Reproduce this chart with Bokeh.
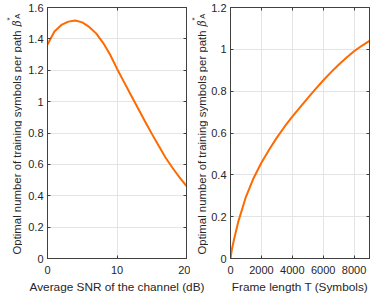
from math import pi
from bokeh.plotting import figure
from bokeh.layouts import row, column
from bokeh.models import Range1d, FixedTicker, LinearAxis, CustomJSTickFormatter
from bokeh.core.properties import value
from bokeh.embed import file_html
from bokeh.resources import INLINE

# ---- data ----
snr_db = [0, 1, 2, 3, 4, 5, 6, 7, 8, 9, 10, 11, 12, 13, 14, 15, 16, 17, 18, 19, 20]
beta_vs_snr = [1.364, 1.447, 1.489, 1.510, 1.517, 1.505, 1.476, 1.435, 1.375, 1.300,
               1.210, 1.126, 1.042, 0.959, 0.877, 0.796, 0.718, 0.642, 0.577, 0.517, 0.462]

frame_len = [0, 100, 250, 500, 1000, 1500, 2000, 2500, 3000, 3500, 4000, 4500,
             5000, 5500, 6000, 6500, 7000, 7500, 8000, 8500, 9000]
beta_vs_T = [0.0, 0.048, 0.098, 0.175, 0.295, 0.385, 0.458, 0.520, 0.578, 0.630,
             0.678, 0.723, 0.767, 0.810, 0.851, 0.890, 0.926, 0.960, 0.991, 1.017, 1.040]

left_xticks = [0, 10, 20]
left_xtick_labels = ["0", "10", "20"]
left_yticks = [0, 0.2, 0.4, 0.6, 0.8, 1.0, 1.2, 1.4, 1.6]
left_ytick_labels = ["0", "0.2", "0.4", "0.6", "0.8", "1", "1.2", "1.4", "1.6"]
right_xticks = [0, 2000, 4000, 6000, 8000]
right_xtick_labels = ["0", "2000", "4000", "6000", "8000"]
right_yticks = [0, 0.2, 0.4, 0.6, 0.8, 1.0, 1.2]
right_ytick_labels = ["0", "0.2", "0.4", "0.6", "0.8", "1", "1.2"]

xlabel_left = "Average SNR of the channel (dB)"
xlabel_right = "Frame length T (Symbols)"
ylabel_text = "Optimal number of training symbols per path"
ylabel_sym = "β"
ylabel_sup = "*"
ylabel_sub = "A"

LINE = "#FF6A00"
AX = "#404040"
TXT = "#262626"
GRID = "#e4e4e4"
FONT = "Liberation Sans"

TOP_H = 279          # height of the plots row
FRAME_W, FRAME_H = 139, 251
FRAME_TOP = 7
LAB1_W, P1_BL, P1_BR = 22, 25, 4
LAB2_W, P2_BL, P2_BR = 18, 22, 5


def style_axis(ax, labels=True):
    ax.axis_line_color = AX
    ax.major_tick_line_color = AX
    ax.major_tick_in = 3
    ax.major_tick_out = 0
    ax.minor_tick_line_color = None
    ax.major_label_text_font = FONT
    ax.major_label_text_color = TXT
    ax.major_label_text_font_size = "11px"
    if not labels:
        ax.formatter = CustomJSTickFormatter(code="return ''")
        ax.major_label_standoff = 0
        ax.major_label_text_font_size = "1px"


def make_fig(xr, yr, xticks, xlabels, yticks, ylabels, bl, br):
    p = figure(width=bl + FRAME_W + br, height=TOP_H, frame_width=FRAME_W,
               frame_height=FRAME_H, x_range=Range1d(*xr), y_range=Range1d(*yr),
               output_backend="svg", toolbar_location=None, tools="",
               min_border_left=bl, min_border_right=br, min_border_top=FRAME_TOP,
               min_border_bottom=TOP_H - FRAME_TOP - FRAME_H)
    p.background_fill_color = "white"
    p.border_fill_color = "white"
    p.outline_line_color = AX
    bottom_ax = p.below[0]
    left_ax = p.left[0]
    style_axis(bottom_ax)
    style_axis(left_ax)
    bottom_ax.ticker = FixedTicker(ticks=xticks)
    bottom_ax.major_label_overrides = {t: s for t, s in zip(xticks, xlabels)}
    left_ax.ticker = FixedTicker(ticks=yticks)
    left_ax.major_label_overrides = {t: s for t, s in zip(yticks, ylabels)}
    bottom_ax.major_label_standoff = 7
    left_ax.major_label_standoff = 4
    # mirrored tick axes (MATLAB box style), without labels
    top_ax = LinearAxis(ticker=FixedTicker(ticks=xticks))
    right_ax = LinearAxis(ticker=FixedTicker(ticks=yticks))
    style_axis(top_ax, labels=False)
    style_axis(right_ax, labels=False)
    p.add_layout(top_ax, "above")
    p.add_layout(right_ax, "right")
    p.xgrid.ticker = FixedTicker(ticks=xticks)
    p.ygrid.ticker = FixedTicker(ticks=yticks)
    p.xgrid.grid_line_color = GRID
    p.ygrid.grid_line_color = GRID
    return p


def blank_fig(w, h):
    f = figure(width=w, height=h, x_range=Range1d(0, w), y_range=Range1d(0, h),
               output_backend="svg", toolbar_location=None, tools="",
               min_border=0, x_axis_location=None, y_axis_location=None)
    f.grid.visible = False
    f.outline_line_color = None
    f.background_fill_color = "white"
    f.border_fill_color = "white"
    return f


def ylabel_fig(w, baseline_x):
    f = blank_fig(w, TOP_H)
    H = TOP_H
    end_y = 25.5
    f.text(x=[baseline_x], y=[H - end_y], text=[ylabel_text], angle=pi / 2,
           text_align="right", text_baseline="alphabetic",
           text_font=value(FONT), text_font_size="11.4px", text_color=TXT)
    f.text(x=[baseline_x - 0.5], y=[H - 21], text=[ylabel_sym], angle=pi / 2,
           text_align="left", text_baseline="alphabetic",
           text_font=value("DejaVu Serif"), text_font_style="italic",
           text_font_size="10.5px", text_color=TXT)
    f.text(x=[baseline_x - 7.5], y=[H - 14.5], text=[ylabel_sup], angle=pi / 2,
           text_align="left", text_baseline="alphabetic",
           text_font=value(FONT), text_font_size="8px", text_color=TXT)
    f.text(x=[baseline_x + 0.5], y=[H - 12.5], text=[ylabel_sub], angle=pi / 2,
           text_align="left", text_baseline="alphabetic",
           text_font=value(FONT), text_font_size="7.5px", text_color=TXT)
    return f


# ---- left panel ----
lab1 = ylabel_fig(LAB1_W, 16.5)
p1 = make_fig((0, 20), (0, 1.6), left_xticks, left_xtick_labels, left_yticks,
              left_ytick_labels, P1_BL, P1_BR)
p1.line(snr_db, beta_vs_snr, line_color=LINE, line_width=2)

# ---- right panel ----
lab2 = ylabel_fig(LAB2_W, 11.7)
p2 = make_fig((0, 9000), (0, 1.2), right_xticks, right_xtick_labels, right_yticks,
              right_ytick_labels, P2_BL, P2_BR)
p2.line(frame_len, beta_vs_T, line_color=LINE, line_width=2)

# ---- x-axis titles row ----
BOT_H = 294 - TOP_H
xl = blank_fig(374, BOT_H)
left_center = LAB1_W + P1_BL + FRAME_W / 2
right_center = LAB1_W + P1_BL + FRAME_W + P1_BR + LAB2_W + P2_BL + FRAME_W / 2
xl.text(x=[left_center, right_center], y=[BOT_H - 7.3, BOT_H - 7.3],
        text=[xlabel_left, xlabel_right], text_align="center", text_baseline="middle",
        text_font=value(FONT), text_font_size="11.8px", text_color=TXT)

layout = column(row(lab1, p1, lab2, p2, spacing=0), xl, spacing=0)
open("out.html", "w").write(file_html(layout, INLINE))
